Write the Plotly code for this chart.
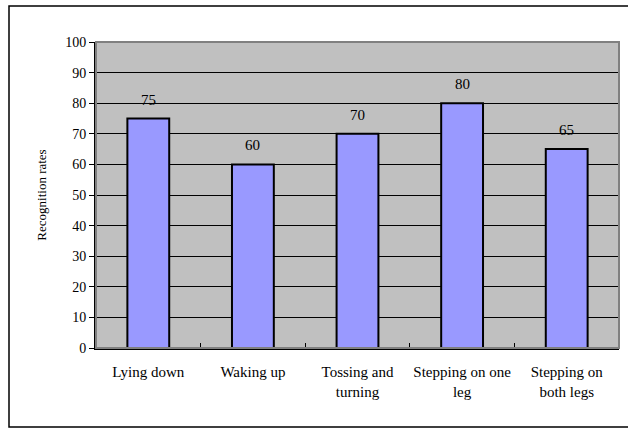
import plotly.graph_objects as go

categories = ["Lying down", "Waking up", "Tossing and turning", "Stepping on one leg", "Stepping on both legs"]
tick_labels = ["Lying down", "Waking up", "Tossing and<br>turning", "Stepping on one<br>leg", "Stepping on<br>both legs"]
values = [75, 60, 70, 80, 65]
y_ticks = [0, 10, 20, 30, 40, 50, 60, 70, 80, 90, 100]

FONT = "Liberation Serif"

fig = go.Figure()
fig.add_trace(go.Bar(
    x=categories, y=values,
    marker=dict(color="#9999FF", line=dict(color="black", width=2)),
    hoverinfo="skip",
))

for c, v in zip(categories, values):
    fig.add_annotation(x=c, y=v, xref="x", yref="y", text=str(v), showarrow=False,
                       yshift=19, font=dict(family=FONT, size=15, color="black"))

fig.update_layout(
    width=628, height=430,
    margin=dict(l=96, r=9, t=42, b=82),
    paper_bgcolor="white",
    plot_bgcolor="#C0C0C0",
    bargap=0.6,
    showlegend=False,
    font=dict(family=FONT, size=14, color="black"),
    shapes=[
        dict(type="rect", xref="paper", yref="paper", x0=0, x1=1, y0=0, y1=1,
             line=dict(color="#808080", width=2), layer="above"),
        dict(type="rect", xref="paper", yref="paper",
             x0=-87/523, x1=(630-96)/523, y0=-(427-348)/306, y1=(348-6)/306,
             line=dict(color="black", width=1.5), fillcolor="rgba(0,0,0,0)"),
    ],
)

fig.update_xaxes(
    type="category", tickmode="array", tickvals=categories, ticktext=tick_labels,
    ticks="inside", tickson="boundaries", ticklen=5, tickcolor="black", tickwidth=1,
    showline=True, linecolor="black", linewidth=2, showgrid=False,
    ticklabelstandoff=9, tickangle=0, automargin=False,
    tickfont=dict(family=FONT, size=15, color="black"),
)
fig.update_yaxes(
    range=[0, 100], tickvals=y_ticks, ticks="outside", ticklen=5, tickcolor="black",
    showline=True, linecolor="black", linewidth=2, automargin=False,
    showgrid=True, gridcolor="black", gridwidth=1, zeroline=False,
    tickfont=dict(family=FONT, size=14, color="black"),
    title=dict(text="Recognition rates", font=dict(family=FONT, size=13, color="black"), standoff=16),
)

fig.write_html("out.html")
